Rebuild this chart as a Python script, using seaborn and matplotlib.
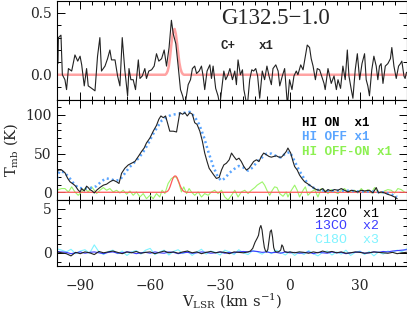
import numpy as np
import pandas as pd
import matplotlib
matplotlib.use("Agg")
import matplotlib.pyplot as plt
from matplotlib.ticker import MultipleLocator, FormatStrFormatter
import seaborn as sns

# ---------------- data ----------------
cplus = [(-99.6, 0.09), (-99.4, 0.30), (-98.3, 0.32), (-97.7, 0.0), (-96.6, -0.04), (-95.9, -0.12),
         (-95.1, 0.05), (-93.7, 0.03), (-92.3, 0.16), (-91.1, 0.11), (-90.1, 0.15), (-89.4, 0.08),
         (-88.3, -0.09), (-87.3, 0.05), (-86.6, -0.09), (-85.1, -0.11), (-83.7, -0.13), (-82.6, 0.15),
         (-81.6, 0.30), (-80.9, 0.03), (-79.4, 0.07), (-78.3, 0.13), (-77.3, 0.20), (-76.6, 0.12),
         (-75.1, 0.12), (-74.0, -0.01), (-73.0, -0.09), (-72.0, 0.30), (-70.9, 0.04), (-69.7, -0.17),
         (-69.1, 0.05), (-68.3, -0.04), (-67.3, -0.04), (-66.3, -0.12), (-65.1, 0.12), (-64.4, -0.03),
         (-63.4, -0.01), (-62.3, 0.05), (-61.6, -0.03), (-60.6, 0.03), (-59.4, 0.04), (-58.3, 0.07),
         (-57.3, 0.17), (-56.3, 0.11), (-55.1, 0.13), (-54.0, 0.20), (-53.0, 0.07), (-51.9, 0.22),
         (-50.9, 0.44), (-50.1, 0.33), (-49.0, 0.25), (-48.0, 0.07), (-47.0, -0.12), (-46.1, -0.17),
         (-45.1, -0.25), (-43.7, -0.08), (-42.7, -0.04), (-41.9, 0.05), (-40.9, 0.07), (-40.1, 0.01),
         (-39.0, 0.03), (-38.0, 0.07), (-37.3, -0.01), (-36.6, -0.12), (-35.6, 0.03), (-34.4, 0.08),
         (-33.7, -0.03), (-33.0, 0.07), (-31.9, -0.11), (-30.9, -0.17), (-30.1, -0.25), (-29.4, -0.13),
         (-28.4, 0.03), (-27.6, -0.04), (-26.6, 0.0), (-25.8, 0.05), (-24.7, -0.04), (-23.7, 0.03),
         (-23.0, -0.08), (-22.3, 0.12), (-21.3, 0.0), (-20.4, 0.04), (-19.8, -0.12), (-19.0, -0.20),
         (-18.3, -0.25), (-17.3, -0.04), (-16.4, 0.04), (-15.6, 0.03), (-14.7, 0.05), (-13.9, -0.01),
         (-13.0, -0.19), (-11.9, 0.03), (-10.9, -0.04), (-9.9, 0.07), (-9.0, -0.01), (-8.0, -0.08),
         (-7.3, 0.05), (-6.1, 0.08), (-5.1, 0.03), (-4.4, -0.09), (-3.3, -0.01), (-2.3, 0.05),
         (-1.1, -0.25), (-0.2, -0.04), (0.85, -0.12), (1.7, -0.01), (2.7, 0.03), (3.4, 0.0),
         (4.6, 0.08), (5.6, 0.04), (6.6, 0.15), (7.4, 0.24), (8.4, 0.22), (9.1, 0.13), (9.9, 0.07),
         (10.9, -0.04), (11.7, 0.05), (12.7, 0.04), (13.4, 0.0), (14.6, -0.07), (15.1, -0.12),
         (16.3, 0.05), (17.0, -0.01), (17.7, -0.07), (18.9, -0.01), (19.9, -0.12), (20.6, -0.04),
         (21.7, -0.11), (22.7, 0.07), (23.7, -0.04), (24.6, 0.20), (25.3, -0.01), (26.3, -0.12),
         (27.0, -0.19), (28.0, 0.04), (28.9, 0.17), (29.9, -0.04), (30.9, 0.09), (32.0, 0.17),
         (32.7, -0.04), (33.4, -0.09), (34.1, -0.17), (35.1, 0.04), (36.0, 0.15), (37.0, 0.07),
         (37.7, -0.04), (38.4, 0.07), (39.1, 0.09), (39.9, -0.07), (40.9, 0.07), (42.0, 0.09),
         (43.1, 0.13), (43.7, 0.22), (44.6, 0.07), (45.6, -0.03), (46.6, 0.07), (47.4, 0.09),
         (48.0, 0.11), (48.9, -0.01), (49.4, -0.03), (50.0, 0.02)]

cplus_fit = [(-100, 0.0), (-53.5, 0.0), (-53.0, 0.01), (-52.5, 0.03), (-52.0, 0.07), (-51.5, 0.14),
             (-51.0, 0.23), (-50.5, 0.31), (-50.0, 0.36), (-49.5, 0.37), (-49.0, 0.33), (-48.5, 0.26),
             (-48.0, 0.18), (-47.5, 0.10), (-47.0, 0.05), (-46.5, 0.02), (-46.0, 0.005), (-45.5, 0.0),
             (50, 0.0)]

hi_on = [(-100.0, 26.6), (-99.4, 28.8), (-98.0, 28.8), (-96.6, 25.3), (-95.4, 17.9), (-94.4, 13.5),
         (-93.0, 10.5), (-92.0, 7.9), (-91.1, 3.5), (-90.1, 0.4), (-89.4, 4.8), (-88.3, 1.7),
         (-87.3, 7.9), (-86.6, 6.1), (-85.9, 3.5), (-84.9, 1.7), (-84.0, -0.9), (-83.0, 2.6),
         (-81.6, 6.1), (-80.1, 9.2), (-78.7, 10.5), (-77.3, 13.5), (-75.9, 15.7), (-74.4, 13.5),
         (-73.4, 11.4), (-72.3, 24.5), (-70.9, 31.0), (-69.4, 35.4), (-68.0, 37.6), (-66.6, 39.7),
         (-65.1, 46.3), (-63.7, 52.8), (-62.6, 57.2), (-61.6, 63.8), (-60.1, 70.3), (-58.7, 79.0),
         (-57.3, 86.5), (-56.3, 94.4), (-55.4, 98.7), (-54.4, 96.5), (-53.4, 98.7), (-52.6, 90.0),
         (-51.6, 79.0), (-50.1, 79.0), (-48.7, 78.0), (-47.3, 103.0), (-46.1, 100.9), (-45.1, 103.0),
         (-44.1, 98.7), (-43.0, 103.0), (-41.9, 100.9), (-40.9, 90.0), (-39.9, 87.8), (-38.7, 79.0),
         (-37.6, 66.0), (-36.6, 50.7), (-35.6, 39.8), (-34.7, 31.0), (-33.7, 26.6), (-32.7, 22.3),
         (-31.6, 17.9), (-30.4, 19.2), (-29.4, 28.8), (-28.4, 35.4), (-27.3, 37.6), (-26.1, 42.0),
         (-25.1, 50.7), (-24.1, 46.3), (-23.0, 42.0), (-21.9, 44.1), (-20.9, 39.8), (-19.8, 33.2),
         (-18.7, 28.8), (-17.6, 31.0), (-16.6, 35.4), (-15.6, 39.8), (-14.4, 42.0), (-13.3, 39.8),
         (-12.3, 46.3), (-11.3, 50.7), (-10.1, 48.5), (-9.0, 46.3), (-8.0, 45.4), (-7.0, 46.3),
         (-5.9, 47.2), (-4.7, 45.4), (-3.7, 45.4), (-2.7, 48.5), (-1.6, 52.8), (-0.9, 57.2),
         (0.3, 50.7), (1.3, 39.8), (2.0, 33.2), (3.1, 28.8), (4.1, 22.3), (5.1, 17.9), (6.3, 13.5),
         (7.4, 11.4), (8.4, 9.2), (9.9, 6.1), (11.3, 3.5), (12.7, 2.6), (14.1, 4.8), (15.1, 0.4),
         (16.3, 3.5), (17.7, 1.7), (19.1, 3.5), (20.6, 2.6), (22.0, 4.8), (23.4, 2.6), (24.9, 0.4),
         (26.3, 2.6), (27.7, 1.7), (29.1, 0.4), (30.6, 2.6), (32.0, 1.7), (34.1, 2.6), (35.6, -0.9),
         (37.0, 6.1), (38.0, -0.9), (39.1, 0.4), (40.6, -0.9), (42.0, -2.7), (43.4, -4.0),
         (44.9, -6.1), (46.0, -8.3)]

hi_off = [(-100, 18), (-99, 27), (-97, 26), (-95, 20), (-93, 12), (-91, 6), (-89, 5), (-87, 5),
          (-85, 6), (-83, 8), (-81, 14), (-79, 18), (-77, 17), (-75, 15), (-73, 16), (-71, 24),
          (-69, 32), (-67, 38), (-65, 44), (-63, 52), (-61, 62), (-59, 74), (-57, 84), (-55, 93),
          (-53, 97), (-51, 100), (-49, 101), (-47, 102), (-45, 103), (-43, 104), (-41, 98), (-39, 88),
          (-37, 72), (-35, 52), (-33, 34), (-31, 20), (-29.5, 15), (-28, 18), (-26, 25), (-24, 30),
          (-22, 34), (-20, 32), (-18, 28), (-16, 32), (-14, 40), (-12, 45), (-10, 50), (-8, 50),
          (-6, 47), (-4, 45), (-2, 50), (0, 52), (2, 40), (4, 28), (6, 18), (8, 10), (10, 6),
          (12, 3), (15, 2), (20, 2), (25, 2), (30, 1), (35, 1), (40, 0), (43, -2), (46, -6)]

hi_diff = [(-100.0, 2.6), (-99.4, 3.5), (-98.0, 4.8), (-96.6, 4.8), (-95.1, 0.4), (-93.7, 7.0),
           (-92.3, 0.4), (-90.9, -3.9), (-89.4, 0.4), (-88.0, 4.8), (-86.6, 0.4), (-85.1, 7.0),
           (-84.0, 2.6), (-83.0, -1.7), (-81.6, 2.6), (-80.1, 6.1), (-78.7, 2.6), (-77.3, 4.8),
           (-75.9, 0.4), (-74.4, 2.6), (-73.0, -0.9), (-71.6, 2.6), (-70.1, -2.6), (-68.7, 1.7),
           (-67.3, -3.9), (-65.9, 0.4), (-64.4, -6.1), (-63.0, -1.7), (-61.6, -8.3), (-60.1, -3.9),
           (-58.7, -8.3), (-57.3, -1.7), (-55.9, -6.1), (-54.9, 2.6), (-53.7, -1.7), (-52.3, 11.4),
           (-50.9, 17.9), (-49.4, 20.0), (-48.7, 19.2), (-47.6, 11.4), (-46.6, 0.4), (-45.6, 7.0),
           (-44.4, -1.7), (-43.3, 4.8), (-42.3, 0.4), (-40.9, -3.9), (-39.4, 0.4), (-38.0, -6.1),
           (-36.6, -1.7), (-35.1, -3.9), (-33.7, 0.4), (-32.3, 2.6), (-30.9, -1.7), (-29.4, 2.6),
           (-28.0, -6.1), (-26.6, -10.0), (-25.1, -3.9), (-23.7, 2.6), (-22.3, -6.1), (-20.9, 0.4),
           (-19.4, 2.6), (-18.0, -1.7), (-16.6, 2.6), (-15.1, 6.1), (-14.1, 9.2), (-13.0, 11.4),
           (-11.9, 13.5), (-10.9, 9.2), (-9.9, 2.6), (-8.7, -3.9), (-7.6, 2.6), (-6.6, 7.0),
           (-5.6, 6.1), (-4.4, -1.7), (-3.0, -5.2), (-1.6, 0.4), (-0.9, -6.1), (0.6, 2.6), (2.0, 9.2),
           (3.1, 2.6), (4.1, -6.1), (5.6, 2.6), (6.6, 7.0), (7.7, -3.9), (9.1, 0.4), (10.6, 3.5),
           (12.0, -6.1), (13.4, 4.8), (14.9, 2.6), (16.3, -1.7), (17.7, 3.5), (19.1, 0.4), (20.6, -1.7),
           (22.0, 2.6), (23.4, 4.8), (24.9, 0.4), (26.3, 1.7), (27.7, 2.6), (29.1, -0.9), (30.6, 4.8),
           (32.0, 0.4), (33.4, 3.5), (34.9, -0.9), (36.3, 6.1), (37.7, 0.4), (39.1, -0.9), (40.6, 1.7),
           (42.0, 3.5), (43.4, 2.6), (44.9, -0.9), (46.3, 4.8), (47.7, 3.5), (49.1, 0.4)]

hi_fit = [(-100, 0.0), (-54, 0.0), (-53, 0.5), (-52.5, 1.5), (-52, 3.5), (-51.5, 7.0), (-51, 11.5),
          (-50.5, 16.0), (-50, 19.5), (-49.5, 21.0), (-49, 21.0), (-48.5, 19.0), (-48, 15.5),
          (-47.5, 11.5), (-47, 7.5), (-46.5, 4.5), (-46, 2.3), (-45.5, 1.0), (-45, 0.4), (-44, 0.0),
          (50, 0.0)]

co12 = [(-100, 0.1), (-98, 0.0), (-96, -0.1), (-94, -0.35), (-92, 0.05), (-90, -0.1), (-88, 0.1),
        (-86, 0.0), (-84, -0.2), (-82, 0.15), (-80, 0.0), (-78, 0.1), (-76, 0.2), (-74, 0.05),
        (-72, -0.1), (-70, 0.1), (-68, 0.0), (-66, 0.15), (-64, -0.05), (-62, 0.05), (-60, 0.1),
        (-58, -0.1), (-56, 0.05), (-54, 0.2), (-52, 0.0), (-50, 0.1), (-48, -0.05), (-46, 0.1),
        (-44, 0.2), (-42, 0.0), (-40, 0.1), (-38, -0.1), (-36, 0.05), (-34, 0.15), (-32, 0.0),
        (-30, 0.1), (-28, 0.05), (-26, -0.1), (-24, 0.1), (-22, 0.05), (-20, 0.0), (-18, 0.1),
        (-17, 0.2), (-16, 0.5), (-15, 1.2), (-14, 1.7), (-13.5, 2.0), (-13, 2.8), (-12.5, 3.1),
        (-12, 2.6), (-11.5, 1.5), (-11, 0.6), (-10.5, 0.2), (-10, 0.1), (-9.5, 0.4), (-9, 1.4),
        (-8.5, 2.4), (-8, 2.6), (-7.5, 1.8), (-7, 0.6), (-6.5, 0.2), (-6, 0.1), (-5, 0.1),
        (-4, 0.3), (-3.5, 0.9), (-3, 0.7), (-2.5, 0.2), (-2, 0.1), (-1, 0.05), (0, 0.1), (2, 0.0),
        (4, 0.1), (6, 0.05), (8, -0.05), (10, 0.1), (12, 0.0), (14, 0.2), (16, 0.05), (18, 0.15),
        (20, 0.0), (22, 0.1), (24, -0.05), (26, 0.0), (28, 0.1), (30, 0.05), (32, -0.05), (34, 0.0),
        (36, 0.1), (38, 0.05), (40, 0.0), (42, -0.05), (44, 0.05), (46, -0.1), (48, 0.0), (50, 0.05)]

co_vel = list(range(-100, 51, 2))
co13 = [0.15, 0.10, 0.05, -0.10, 0.00, 0.10, -0.05, 0.05, 0.10, 0.00,
        -0.10, 0.05, 0.10, -0.05, 0.00, 0.10, 0.05, -0.10, 0.00, 0.05,
        -0.05, 0.10, 0.00, -0.05, 0.10, 0.05, -0.10, 0.00, 0.05, -0.05,
        0.00, 0.10, 0.05, -0.05, 0.00, 0.10, -0.05, 0.05, 0.00, 0.10,
        0.15, 0.10, 0.20, 0.15, 0.05, 0.10, 0.00, 0.05, -0.05, 0.10,
        0.00, 0.05, -0.05, 0.00, 0.10, -0.10, 0.05, 0.00, -0.05, 0.10,
        0.00, 0.05, -0.10, 0.00, 0.05, 0.10, -0.05, 0.00, 0.10, 0.05,
        0.15, 0.10, 0.20, 0.25, 0.30, 0.35]
c18o = [0.45, 0.30, 0.10, 0.40, -0.10, 0.20, 0.35, -0.05, 0.90, 0.10,
        -0.20, 0.15, 0.30, -0.10, 0.20, -0.30, 0.10, 0.25, -0.15, 0.30,
        0.50, -0.20, 0.10, 0.30, -0.25, 0.15, 0.35, -0.10, 0.20, -0.30,
        0.10, 0.40, -0.15, 0.20, 0.05, -0.25, 0.30, 0.10, -0.20, 0.35,
        0.00, -0.20, 0.25, 0.10, -0.15, 0.20, -0.10, 0.30, 0.05, -0.25,
        0.15, -0.30, 0.10, -0.20, 0.25, -0.10, -0.35, 0.05, 0.20, -0.25,
        0.10, -0.15, 0.30, -0.30, 0.05, 0.20, -0.20, 0.15, -0.35, 0.10,
        -0.15, 0.20, 0.05, 0.30, 0.15, 0.45]

xticks = [-90, -60, -30, 0, 30]
title = "G132.5\u22121.0"

# ---------------- styling ----------------
sns.set_style("ticks")
plt.rcParams["font.family"] = ["DejaVu Serif"]
plt.rcParams["mathtext.fontset"] = "dejavuserif"
plt.rcParams["axes.linewidth"] = 0.8

W, H = 407, 309
fig = plt.figure(figsize=(W / 100, H / 100), dpi=100)

def frac(x0, y0, x1, y1):
    return [x0 / W, 1 - y1 / H, (x1 - x0) / W, (y1 - y0) / H]

ax1 = fig.add_axes(frac(57, 0.5, 406.5, 99.5))
ax2 = fig.add_axes(frac(57, 99.5, 406.5, 200))
ax3 = fig.add_axes(frac(57, 200, 406.5, 266))

def df(pairs):
    return pd.DataFrame(pairs, columns=["v", "T"])

dark = "#222222"
kw = dict(estimator=None, sort=False, legend=False)

# top: C+
sns.lineplot(data=df(cplus_fit), x="v", y="T", ax=ax1, color="#ffa3a3", lw=1.8, **kw)
sns.lineplot(data=df(cplus), x="v", y="T", ax=ax1, color=dark, lw=0.8, **kw)

# middle: HI
sns.lineplot(data=df(hi_diff), x="v", y="T", ax=ax2, color="#9cf56a", lw=0.8, **kw)
sns.lineplot(data=df(hi_fit), x="v", y="T", ax=ax2, color="#ff5a5a", lw=0.9, **kw)
sns.lineplot(data=df(hi_off), x="v", y="T", ax=ax2, color="#5aa5ff", lw=1.8,
             linestyle=(0, (0.8, 1.2)), **kw)
sns.lineplot(data=df(hi_on), x="v", y="T", ax=ax2, color=dark, lw=0.8, **kw)

# bottom: CO
sns.lineplot(x=co_vel, y=c18o, ax=ax3, color="#7ff3ff", lw=0.8, **kw)
sns.lineplot(x=co_vel, y=co13, ax=ax3, color="#3c3cff", lw=0.8, **kw)
sns.lineplot(data=df(co12), x="v", y="T", ax=ax3, color=dark, lw=0.8, **kw)

ylims = [(-0.2, 0.6), (-10, 120), (-1.5, 6)]
ymaj = [0.5, 50, 5]
ymin = [0.1, 10, 1]
for ax, yl, mj, mn in zip([ax1, ax2, ax3], ylims, ymaj, ymin):
    ax.set_xlim(-100, 50)
    ax.set_ylim(*yl)
    ax.xaxis.set_major_locator(plt.FixedLocator(xticks))
    ax.xaxis.set_minor_locator(MultipleLocator(5))
    ax.yaxis.set_major_locator(MultipleLocator(mj))
    ax.yaxis.set_minor_locator(MultipleLocator(mn))
    ax.tick_params(which="both", direction="in", top=True, right=True,
                   color="black", width=0.7, labelsize=10)
    ax.tick_params(which="major", length=6)
    ax.tick_params(which="minor", length=3)
    ax.tick_params(axis="y", pad=4)
    ax.set_xlabel("")
    ax.set_ylabel("")
    for s in ax.spines.values():
        s.set_color("black")
        s.set_linewidth(0.8)
    if ax is not ax3:
        ax.tick_params(labelbottom=False)
ax1.yaxis.set_major_formatter(FormatStrFormatter("%.1f"))
ax3.tick_params(axis="x", pad=9)

mono = ["Liberation Mono", "DejaVu Sans Mono"]
ax1.text(0.469, 0.82, title, transform=ax1.transAxes, fontsize=16.5, va="center",
         family=["Liberation Serif", "DejaVu Serif"])
ax1.text(0.469, 0.54, "C+", transform=ax1.transAxes, fontsize=9, va="center",
         family=mono, weight="bold")
ax1.text(0.577, 0.54, "x1", transform=ax1.transAxes, fontsize=9, va="center",
         family=mono, weight="bold")

ax2.text(0.70, 0.766, "HI ON  x1", transform=ax2.transAxes, fontsize=9, va="center",
         family=mono, weight="bold", color="black")
ax2.text(0.70, 0.627, "HI OFF x1", transform=ax2.transAxes, fontsize=9, va="center",
         family=mono, weight="bold", color="#5aa5ff")
ax2.text(0.70, 0.478, "HI OFF-ON x1", transform=ax2.transAxes, fontsize=9, va="center",
         family=mono, weight="bold", color="#8cf050")

ax3.text(0.737, 0.788, "12CO  x1", transform=ax3.transAxes, fontsize=9.5, va="center",
         family=mono, color="black")
ax3.text(0.737, 0.606, "13CO  x2", transform=ax3.transAxes, fontsize=9.5, va="center",
         family=mono, color="#3c3cff")
ax3.text(0.737, 0.394, "C18O  x3", transform=ax3.transAxes, fontsize=9.5, va="center",
         family=mono, color="#7ff3ff")

fig.text(11 / W, 1 - 150 / H, r"T$_{\rm mb}$ (K)", rotation=90, va="center", ha="center",
         fontsize=10.5)
fig.text(232 / W, 1 - 301 / H, r"V$_{\rm LSR}$ (km s$^{-1}$)", va="center", ha="center",
         fontsize=10.5)

fig.savefig("out.png", dpi=100)
